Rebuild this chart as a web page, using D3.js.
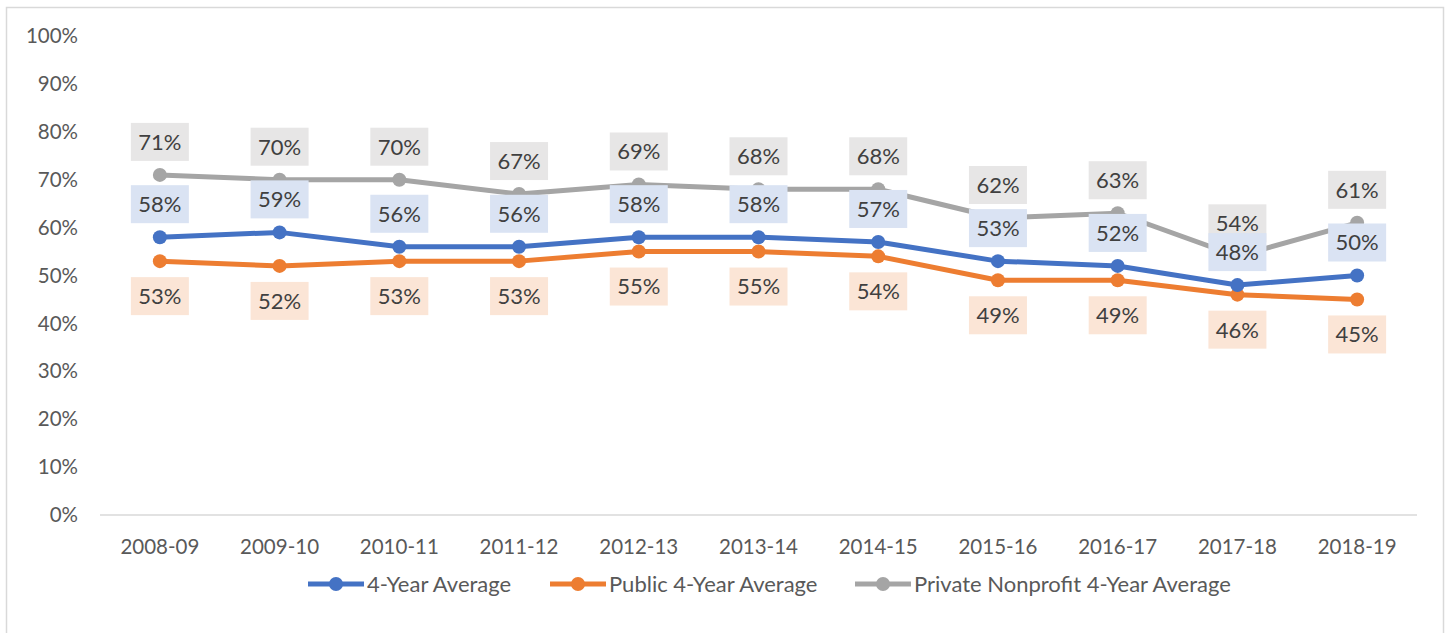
<!DOCTYPE html>
<html>
<head>
<meta charset="utf-8">
<script src="https://cdn.jsdelivr.net/npm/d3@7"></script>
<style>
  body { margin: 0; background: #fff; }
  svg { display: block; font-family: Lato, "Open Sans", sans-serif; }
</style>
</head>
<body>
<div id="chart"></div>
<script>
const years = ["2008-09", "2009-10", "2010-11", "2011-12", "2012-13", "2013-14",
  "2014-15", "2015-16", "2016-17", "2017-18", "2018-19"];
const avg4 = [58, 59, 56, 56, 58, 58, 57, 53, 52, 48, 50];
const public4 = [53, 52, 53, 53, 55, 55, 54, 49, 49, 46, 45];
const private4 = [71, 70, 70, 67, 69, 68, 68, 62, 63, 54, 61];
const yTicks = [0, 10, 20, 30, 40, 50, 60, 70, 80, 90, 100];

const series = [
  { name: "4-Year Average", values: avg4, color: "#4472c4", fill: "#dae3f3", above: true },
  { name: "Public 4-Year Average", values: public4, color: "#ed7d31", fill: "#fbe5d6", above: false },
  { name: "Private Nonprofit 4-Year Average", values: private4, color: "#a5a5a5", fill: "#e7e6e6", above: true }
];

const W = 1448, H = 633;
const svg = d3.select("#chart").append("svg").attr("width", W).attr("height", H);

// chart frame
svg.append("rect")
  .attr("x", 6.5).attr("y", 7.5)
  .attr("width", 1437).attr("height", 640)
  .attr("fill", "#fff").attr("stroke", "#d9d9d9").attr("stroke-width", 1.5);

const x = d3.scaleBand().domain(years).range([100, 1417]);
const y = d3.scaleLinear().domain([0, 100]).range([515, 36]);

// y axis labels
svg.append("g").selectAll("text")
  .data(yTicks).enter().append("text")
  .attr("x", 78).attr("y", (d) => y(d))
  .attr("dy", "0.35em").attr("text-anchor", "end")
  .attr("font-size", 20.5).attr("fill", "#595959")
  .text((d) => d + "%");

// baseline
svg.append("line")
  .attr("x1", 100).attr("x2", 1417)
  .attr("y1", y(0)).attr("y2", y(0))
  .attr("stroke", "#d9d9d9").attr("stroke-width", 1.5);

// x labels
svg.append("g").selectAll("text")
  .data(years).enter().append("text")
  .attr("x", (d) => x(d) + x.bandwidth() / 2).attr("y", 547)
  .attr("dy", "0.35em").attr("text-anchor", "middle")
  .attr("font-size", 20.5).attr("fill", "#595959")
  .text((d) => d);

const cx = (i) => x(years[i]) + x.bandwidth() / 2;
const line = d3.line().x((d, i) => cx(i)).y((d) => y(d));

// lines + markers (gray drawn first so blue/orange sit on top)
const order = [series[2], series[1], series[0]];
order.forEach((s) => {
  svg.append("path")
    .datum(s.values)
    .attr("d", line)
    .attr("fill", "none")
    .attr("stroke", s.color).attr("stroke-width", 5)
    .attr("stroke-linejoin", "round").attr("stroke-linecap", "round");
  svg.append("g").selectAll("circle")
    .data(s.values).enter().append("circle")
    .attr("cx", (d, i) => cx(i)).attr("cy", (d) => y(d))
    .attr("r", 7).attr("fill", s.color);
});

// data labels
const boxW = 58, boxH = 38;
order.forEach((s) => {
  const g = svg.append("g").selectAll("g")
    .data(s.values).enter().append("g")
    .attr("transform", (d, i) => {
      const ly = y(d) + (s.above ? -33 : 35);
      return `translate(${cx(i)},${ly})`;
    });
  g.append("rect")
    .attr("x", -boxW / 2).attr("y", -boxH / 2)
    .attr("width", boxW).attr("height", boxH)
    .attr("fill", s.fill);
  g.append("text")
    .attr("text-anchor", "middle").attr("dy", "0.36em")
    .attr("font-size", 22).attr("fill", "#404040")
    .text((d) => d + "%");
});

// legend
const legendX = [308, 550, 855];
const lg = svg.append("g").selectAll("g")
  .data(series).enter().append("g")
  .attr("transform", (d, i) => `translate(${legendX[i]},584)`);
lg.append("line")
  .attr("x1", 0).attr("x2", 56)
  .attr("stroke", (d) => d.color).attr("stroke-width", 5);
lg.append("circle")
  .attr("cx", 28).attr("r", 7).attr("fill", (d) => d.color);
lg.append("text")
  .attr("x", 59).attr("dy", "0.35em")
  .attr("font-size", 22).attr("fill", "#595959")
  .text((d) => d.name);
</script>
</body>
</html>
